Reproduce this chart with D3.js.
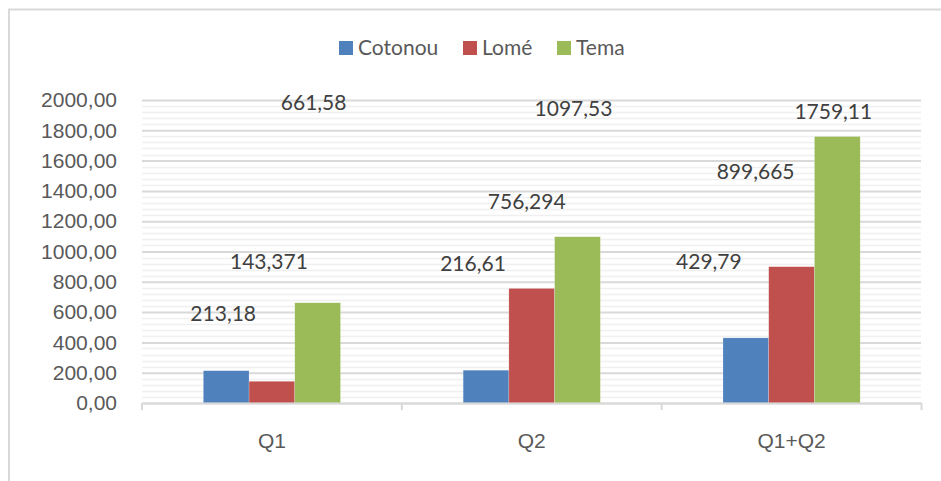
<!DOCTYPE html>
<html>
<head>
<meta charset="utf-8">
<script src="https://cdn.jsdelivr.net/npm/d3@7/dist/d3.min.js"></script>
<style>
  body { margin: 0; background: #fff; }
  svg { display: block; font-family: Lato, "Open Sans", sans-serif; }
</style>
</head>
<body>
<div id="chart"></div>
<script>
// data
var categories = ["Q1", "Q2", "Q1+Q2"];
var seriesNames = ["Cotonou", "Lomé", "Tema"];
var cotonou = [213.18, 216.61, 429.79];
var lome = [143.371, 756.294, 899.665];
var tema = [661.58, 1097.53, 1759.11];
var yTicks = [0, 200, 400, 600, 800, 1000, 1200, 1400, 1600, 1800, 2000];
var colors = ["#4f81bd", "#c0504d", "#9bbb59"];

// where the labels sit in the original (value level, px shift from bar centre)
var labelLevel = [[593, 923, 936], [930, 1326, 1524], [1980, 1940, 1921]];
var labelShift = [[-3, -13, -37], [-3, -5, -36], [-4, -4, -4]];

var series = [cotonou, lome, tema];
var width = 941, height = 481;
var margin = {left: 142, right: 20, top: 100, bottom: 78};
var fontSize = "21px";

var svg = d3.select("#chart").append("svg")
    .attr("width", width)
    .attr("height", height);

// outer frame
svg.append("rect")
    .attr("x", 9).attr("y", 9.5)
    .attr("width", 940).attr("height", 480)
    .attr("fill", "none")
    .attr("stroke", "#d9d9d9")
    .attr("stroke-width", 2);

var x0 = d3.scaleBand()
    .domain(categories)
    .range([margin.left, width - margin.right + 0.5]);

var barW = x0.bandwidth() * 0.176;
var x1 = d3.scaleBand()
    .domain(d3.range(series.length))
    .range([(x0.bandwidth() - 3 * barW) / 2, (x0.bandwidth() + 3 * barW) / 2]);

var y = d3.scaleLinear()
    .domain([0, 2000])
    .range([height - margin.bottom, margin.top]);

var fmt = function(v) { return String(v).replace(".", ","); };

// minor gridlines every 40
var minor = d3.range(0, 2001, 40).filter(function(v) { return v % 200 !== 0; });
svg.append("g").selectAll("line")
    .data(minor)
    .enter().append("line")
    .attr("x1", margin.left).attr("x2", width - margin.right)
    .attr("y1", function(d) { return Math.round(y(d)) + 0.5; })
    .attr("y2", function(d) { return Math.round(y(d)) + 0.5; })
    .attr("stroke", "#f0f0f0")
    .attr("stroke-width", 1.5);

// major gridlines + y labels
var yAxis = svg.append("g")
    .attr("transform", "translate(" + margin.left + ",0)")
    .call(d3.axisLeft(y).tickValues(yTicks).tickSize(-(width - margin.right - margin.left)).tickPadding(25)
        .tickFormat(function(d) { return d3.format(".2f")(d).replace(".", ","); }));
yAxis.select(".domain").remove();
yAxis.selectAll(".tick line").attr("stroke", "#d9d9d9").attr("stroke-width", 2);
yAxis.selectAll(".tick text")
    .attr("fill", "#595959")
    .style("font-size", fontSize);

// bars
var groups = svg.append("g").selectAll("g")
    .data(series)
    .enter().append("g")
    .attr("fill", function(d, i) { return colors[i]; });

groups.selectAll("rect")
    .data(function(d, i) { return d.map(function(v, j) { return {s: i, c: j, v: v}; }); })
    .enter().append("rect")
    .attr("x", function(d) { return x0(categories[d.c]) + x1(d.s); })
    .attr("width", x1.bandwidth())
    .attr("y", function(d) { return y(d.v); })
    .attr("height", function(d) { return y(0) - y(d.v); })
    .attr("stroke", "#ffffff")
    .attr("stroke-opacity", 0.4)
    .attr("stroke-width", 0.5);

// x axis
var xAxis = svg.append("g")
    .attr("transform", "translate(0," + y(0) + ")")
    .call(d3.axisBottom(x0).tickSize(0).tickPadding(30));
xAxis.select(".domain").attr("stroke", "#d9d9d9").attr("stroke-width", 2);
xAxis.selectAll(".tick text")
    .attr("fill", "#595959")
    .style("font-size", fontSize);
var edges = categories.map(function(c) { return x0(c); }).concat([x0.range()[1]]);
xAxis.selectAll(".edge")
    .data(edges)
    .enter().append("line")
    .attr("class", "edge")
    .attr("x1", function(d) { return d; }).attr("x2", function(d) { return d; })
    .attr("y1", 0).attr("y2", 7)
    .attr("stroke", "#d9d9d9").attr("stroke-width", 2);

// data labels
groups.selectAll("text")
    .data(function(d, i) { return d.map(function(v, j) { return {s: i, c: j, v: v}; }); })
    .enter().append("text")
    .attr("x", function(d) { return x0(categories[d.c]) + x1(d.s) + x1.bandwidth() / 2 + labelShift[d.s][d.c]; })
    .attr("y", function(d) { return y(labelLevel[d.s][d.c]); })
    .attr("dy", "0.35em")
    .attr("text-anchor", "middle")
    .attr("fill", "#404040")
    .style("font-size", fontSize)
    .text(function(d) { return fmt(d.v); });

// legend
var legend = svg.append("g").attr("transform", "translate(0,48)");
var legX = [339, 463, 557];
var items = legend.selectAll("g")
    .data(seriesNames)
    .enter().append("g")
    .attr("transform", function(d, i) { return "translate(" + legX[i] + ",0)"; });
items.append("rect")
    .attr("x", 0).attr("y", -7)
    .attr("width", 14).attr("height", 14)
    .attr("fill", function(d, i) { return colors[i]; });
items.append("text")
    .attr("x", 19).attr("dy", "0.35em")
    .attr("fill", "#595959")
    .style("font-size", fontSize)
    .text(function(d) { return d; });
</script>
</body>
</html>
